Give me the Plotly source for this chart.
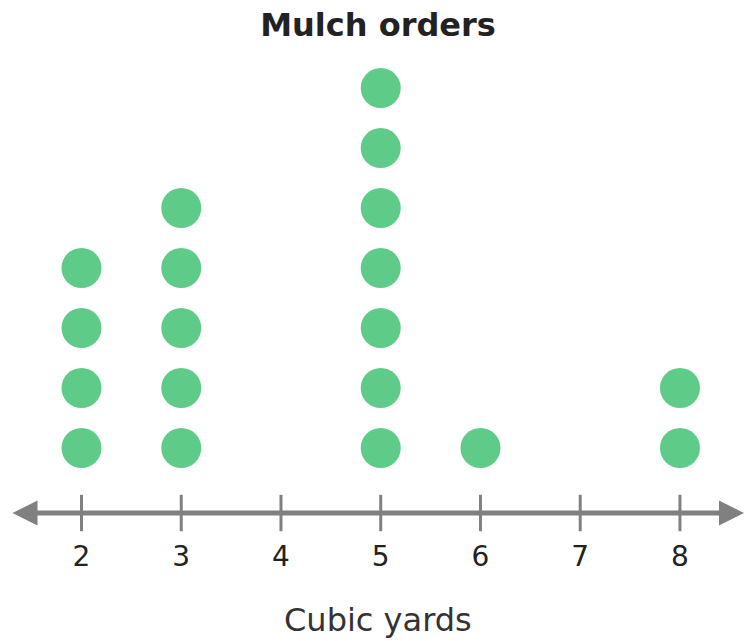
import plotly.graph_objects as go

# ── Data ─────────────────────────────────────────────
cubic_yards = [2, 3, 5, 6, 8]
order_counts = [4, 5, 7, 1, 2]
tick_values = [2, 3, 4, 5, 6, 7, 8]

GREEN = "#5ECB89"
GRAY = "#808080"
TEXT = "#222222"

X_RANGE = [1.183, 8.642]
Y_RANGE = [-0.0833, 7.467]

# stack one dot per order above each value
dot_x, dot_y = [], []
for val, n in zip(cubic_yards, order_counts):
    for k in range(1, n + 1):
        dot_x.append(val)
        dot_y.append(k)

fig = go.Figure()

# tick marks crossing the number line
fig.add_trace(go.Scatter(
    x=tick_values,
    y=[Y_RANGE[0]] * len(tick_values),
    mode="markers",
    marker=dict(symbol="line-ns", size=26, line=dict(color=GRAY, width=3)),
    cliponaxis=False,
    hoverinfo="skip",
))

fig.add_trace(go.Scatter(
    x=dot_x,
    y=dot_y,
    mode="markers",
    marker=dict(size=40, color=GREEN, line=dict(width=0)),
    hovertemplate="%{x} cubic yards<extra></extra>",
))

# number line with arrowheads at both ends
fig.add_annotation(
    x=X_RANGE[1], y=Y_RANGE[0], xref="x", yref="y",
    ax=X_RANGE[0] + 0.11, ay=Y_RANGE[0], axref="x", ayref="y",
    text="", showarrow=True, arrowside="end+start",
    arrowhead=2, arrowsize=1.0, arrowwidth=5, arrowcolor=GRAY,
    standoff=0, startstandoff=0,
)

# axis caption, slightly right of the plot centre like the original
fig.add_annotation(
    text="Cubic yards",
    x=378 / 744, xref="paper", xanchor="center",
    y=-0.2362, yref="paper", yanchor="middle",
    showarrow=False,
    font=dict(size=32, color="#333333"),
)

fig.update_layout(
    width=744,
    height=641,
    showlegend=False,
    paper_bgcolor="white",
    plot_bgcolor="white",
    font=dict(family="DejaVu Sans", color=TEXT),
    margin=dict(l=0, r=0, t=60, b=128),
    title=dict(
        text="<b>Mulch orders</b>",
        font=dict(size=32, color=TEXT),
        x=378 / 744, xref="container", xanchor="center",
        y=1 - 25 / 641, yref="container", yanchor="middle",
    ),
    xaxis=dict(
        range=X_RANGE,
        tickvals=tick_values,
        ticks="outside", ticklen=18, tickcolor="rgba(0,0,0,0)",
        tickfont=dict(size=28, color=TEXT),
        showgrid=False, zeroline=False, showline=False,
        fixedrange=True,
    ),
    yaxis=dict(
        range=Y_RANGE,
        visible=False,
        fixedrange=True,
    ),
)

# drop the default page margin so the figure fills the window exactly
fig.write_html(
    "out.html",
    config={"displayModeBar": False},
    post_script="document.body.style.margin='0';",
)
